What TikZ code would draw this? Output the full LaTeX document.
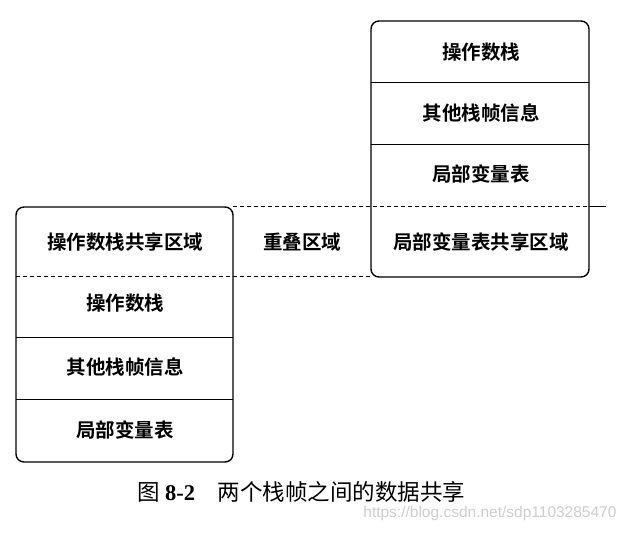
\documentclass[tikz,border=0pt]{standalone}
\usepackage{fontspec}
\usepackage{xcolor}
\usepackage{tikz}
\newfontfamily\cjk{Noto Sans CJK SC}[BoldFont={Noto Sans CJK SC Bold}]
\definecolor{markgray}{RGB}{205,205,205}
\tikzset{
  cell/.style={font=\cjk\bfseries\fontsize{19.5}{22}\selectfont, inner sep=0pt},
  frame/.style={line width=1.4pt, rounded corners=8pt},
  split/.style={line width=0.8pt},
  share/.style={line width=0.9pt, dash pattern=on 4pt off 3pt}
}

\begin{document}
\begin{tikzpicture}[x=1pt, y=-1pt]
\useasboundingbox (0,0) rectangle (631,533);

% right frame
\draw[frame] (371,21) rectangle (589,277);
\draw[split] (371,82)--(589,82);
\draw[split] (371,144)--(589,144);
\node[cell] (ra) at (481,52) {操作数栈};
\node[cell] (rb) at (481,113) {其他栈帧信息};
\node[cell] (rc) at (481,174) {局部变量表};
\node[cell] (rd) at (481,242) {局部变量表共享区域};

% left frame
\draw[frame] (16,207) rectangle (233,462);
\draw[split] (16,337)--(233,337);
\draw[split] (16,399)--(233,399);
\node[cell] (la) at (125,242) {操作数栈共享区域};
\node[cell] (lb) at (125,303) {操作数栈};
\node[cell] (lc) at (125,367) {其他栈帧信息};
\node[cell] (ld) at (125,430) {局部变量表};

\node[cell] (mid) at (302,242) {重叠区域};

% shared region
\draw[share] (233,206)--(589,206);
\draw[split] (589,206)--(606,206);
\draw[share] (16,276)--(371,276);

\node[font=\cjk\fontsize{22.5}{25}\selectfont, anchor=west] (cap) at (134,492)
  {图 {\fontspec{Liberation Serif}\bfseries 8-2}\hspace{1em}两个栈帧之间的数据共享};
\node[font=\fontspec{Liberation Sans}\fontsize{15.5}{18}\selectfont, text=markgray, anchor=east] (mark) at (620,513)
  {https://blog.csdn.net/sdp1103285470};
\end{tikzpicture}
\end{document}
